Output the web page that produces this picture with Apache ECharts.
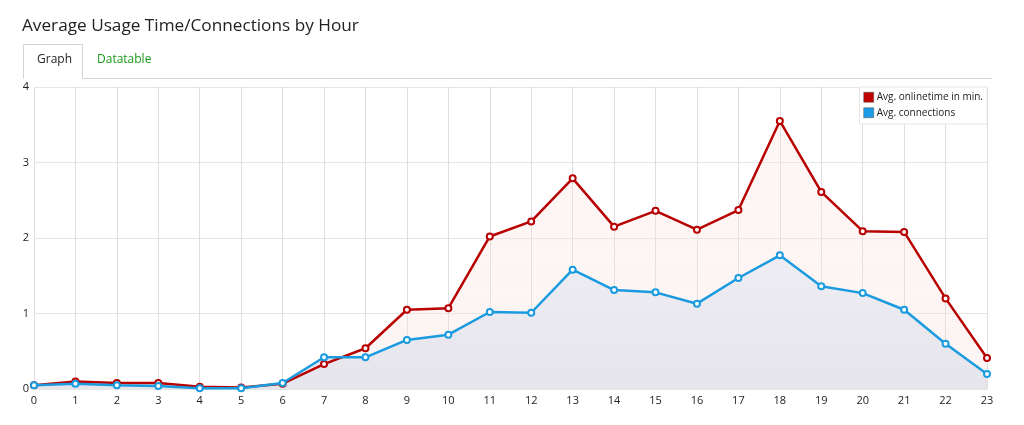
<!DOCTYPE html>
<html><head><meta charset="utf-8">
<script src="https://cdn.jsdelivr.net/npm/echarts@6/dist/echarts.min.js"></script>
<style>html,body{margin:0;padding:0;background:#fff;}#c{width:1024px;height:425px;}</style>
</head><body><div id="c"></div>
<script>
const hours = ['0','1','2','3','4','5','6','7','8','9','10','11','12','13','14','15','16','17','18','19','20','21','22','23'];
const onlineTime = [0.05,0.10,0.08,0.08,0.03,0.02,0.07,0.33,0.54,1.05,1.07,2.02,2.22,2.79,2.15,2.36,2.11,2.37,3.55,2.61,2.09,2.08,1.20,0.41];
const connections = [0.05,0.07,0.05,0.04,0.01,0.01,0.08,0.42,0.42,0.65,0.72,1.02,1.01,1.58,1.31,1.28,1.13,1.47,1.77,1.36,1.27,1.05,0.60,0.20];
const seriesNames = ['Avg. onlinetime in min.','Avg. connections'];
const F = '"Open Sans", sans-serif';
const chart = echarts.init(document.getElementById('c'));
chart.setOption({
  animation:false,
  title:{text:'Average Usage Time/Connections by Hour',left:17,top:13,textStyle:{fontFamily:F,fontSize:17.2,fontWeight:'normal',color:'#222'}},
  graphic:[
    {type:'polyline',shape:{points:[[23.5,78.5],[23.5,44.5],[82.5,44.5],[82.5,78.5]]},style:{stroke:'#d4d4d4',lineWidth:1,fill:null}},
    {type:'line',shape:{x1:82.5,y1:78.5,x2:992,y2:78.5},style:{stroke:'#d4d4d4',lineWidth:1}},
    {type:'text',left:37,top:54,style:{text:'Graph',font:'12px '+F,fill:'#222'}},
    {type:'text',left:97,top:54,style:{text:'Datatable',font:'12px '+F,fill:'#1a9a1a'}}
  ],
  legend:{orient:'vertical',right:37,top:87,itemWidth:10,itemHeight:10,itemGap:5,padding:[5,4,6,4],
    backgroundColor:'#fff',borderColor:'#e6e6e6',borderWidth:1,
    textStyle:{fontFamily:F,fontSize:10,color:'#222',padding:[0,0,0,-2]},
    data:[{name:seriesNames[0],icon:'rect',itemStyle:{color:'#c00000',borderColor:'#555',borderWidth:0.5}},
          {name:seriesNames[1],icon:'rect',itemStyle:{color:'#1a9be6',borderColor:'#555',borderWidth:0.5}}]},
  grid:{left:34,right:37,top:87,bottom:36,containLabel:false},
  xAxis:{type:'category',data:hours,boundaryGap:false,
    axisLine:{show:false},axisTick:{show:false},
    axisLabel:{fontFamily:F,fontSize:11,color:'#222',margin:6},
    splitLine:{show:true,lineStyle:{color:'#dedede'}}},
  yAxis:{type:'value',min:0,max:4,interval:1,
    axisLine:{show:false},axisTick:{show:false},
    axisLabel:{fontFamily:F,fontSize:11,color:'#222',margin:5},
    splitLine:{show:true,lineStyle:{color:'#e6e6e6'}}},
  series:[
    {name:'area-online',type:'line',data:onlineTime,symbol:'none',z:1,silent:true,
      lineStyle:{width:0},
      areaStyle:{color:new echarts.graphic.LinearGradient(0,0,0,1,[{offset:0,color:'rgba(250,228,220,0.45)'},{offset:1,color:'rgba(245,225,220,0.5)'}])}},
    {name:'area-conn',type:'line',data:connections,symbol:'none',z:1,silent:true,
      lineStyle:{width:0},
      areaStyle:{color:new echarts.graphic.LinearGradient(0,0,0,1,[{offset:0,color:'#eeedf3'},{offset:1,color:'#e6e5eb'}]),opacity:1}},
    {name:seriesNames[0],type:'line',data:onlineTime,symbol:'circle',symbolSize:6,z:3,
      lineStyle:{color:'#b80000',width:2.5},
      itemStyle:{color:'#fff',borderColor:'#b80000',borderWidth:2}},
    {name:seriesNames[1],type:'line',data:connections,symbol:'circle',symbolSize:6,z:4,
      lineStyle:{color:'#1a9be0',width:2.5},
      itemStyle:{color:'#fff',borderColor:'#1a9be0',borderWidth:2}}
  ]
});
</script></body></html>
